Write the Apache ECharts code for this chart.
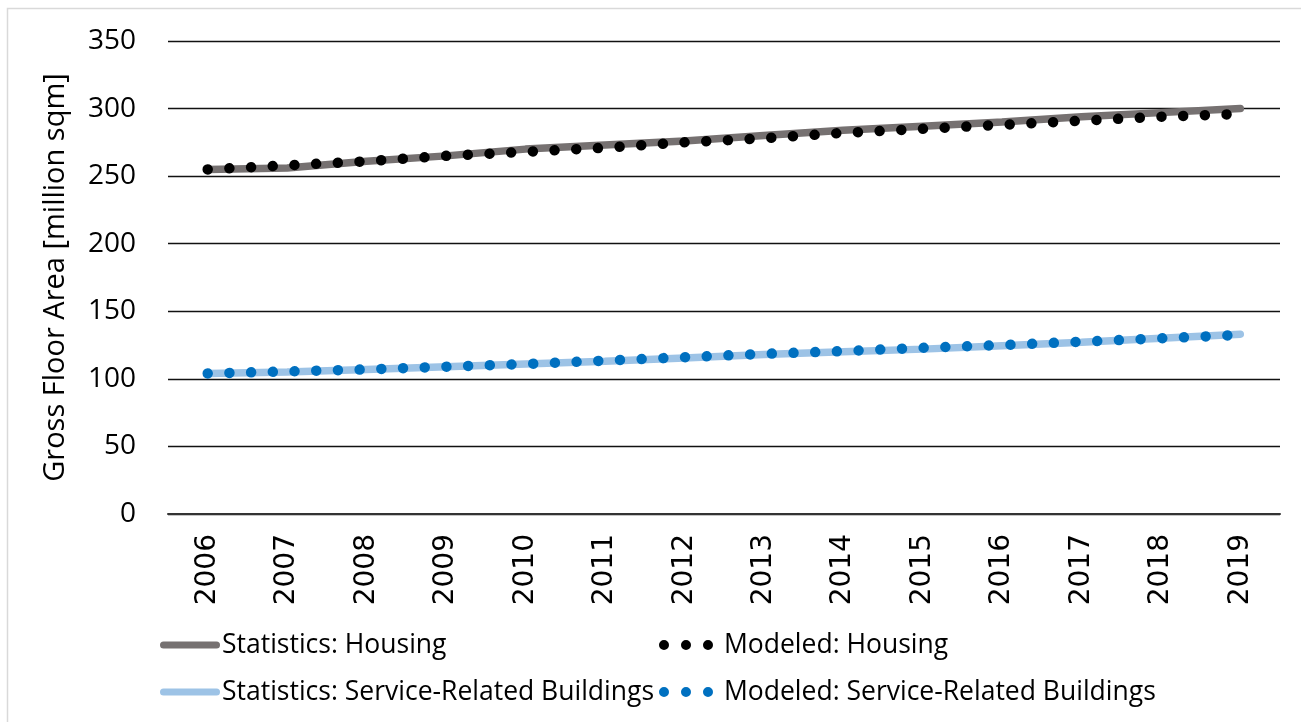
<!DOCTYPE html>
<html>
<head>
<meta charset="utf-8">
<script src="https://cdn.jsdelivr.net/npm/echarts@6/dist/echarts.min.js"></script>
<style>
  html, body { margin: 0; padding: 0; background: #fff; }
  #chart { width: 1301px; height: 722px; }
</style>
</head>
<body>
<div id="chart"></div>
<script>
const years = ['2006', '2007', '2008', '2009', '2010', '2011', '2012', '2013', '2014', '2015', '2016', '2017', '2018', '2019']
const yTicks = [0, 50, 100, 150, 200, 250, 300, 350]

// values, million sqm
const statsHousing = [255, 256, 261, 265, 270, 273, 276, 280, 284, 287, 290, 294, 297, 300]
const modelHousing = [255, 258, 261, 265, 268, 271, 275, 278, 282, 285, 288, 291, 294, 296]
const statsService = [104, 105, 107, 109, 111, 113, 115.5, 118, 120, 122, 124.5, 127, 130, 133]
const modelService = [104, 105.5, 107, 109, 111, 113.5, 116, 118.5, 120.5, 123, 125, 127.5, 130, 132.5]

const chart = echarts.init(document.getElementById('chart'))

const dots = [0.01, 21.7]
const font = 'Open Sans'

// legend icons: thick rounded bar and three round dots
const barIcon = 'path://M3.5,0 L56.5,0 A3.5,3.5 0 0,1 56.5,7 L3.5,7 A3.5,3.5 0 0,1 3.5,0 Z'
const dotIcon = 'path://M0,5 a5,5 0 1,0 10,0 a5,5 0 1,0 -10,0 Z M22,5 a5,5 0 1,0 10,0 a5,5 0 1,0 -10,0 Z M44,5 a5,5 0 1,0 10,0 a5,5 0 1,0 -10,0 Z'

const legendItem = (name, left, top, dotted) => ({
  left: left,
  top: top,
  padding: 0,
  itemGap: 0,
  itemWidth: dotted ? 54 : 60,
  itemHeight: dotted ? 10 : 7,
  icon: dotted ? dotIcon : barIcon,
  itemStyle: { borderWidth: 0 },
  lineStyle: { width: 0 },
  textStyle: {
    fontFamily: font,
    fontSize: 26.5,
    lineHeight: 30,
    color: '#000',
    padding: [0, 0, 0, dotted ? 6 : -3]
  },
  data: [name]
})

const option = {
  animation: false,
  backgroundColor: '#fff',
  graphic: [
    {
      type: 'rect',
      shape: { x: 7.5, y: 8.5, width: 1310, height: 730 },
      style: { fill: 'none', stroke: '#d9d9d9', lineWidth: 1.5 },
      silent: true
    }
  ],
  grid: {
    left: 168,
    right: 21,
    top: 41,
    bottom: 208
  },
  legend: [
    legendItem('Statistics: Housing', 160, 630, false),
    legendItem('Modeled: Housing', 659, 630, true),
    legendItem('Statistics: Service-Related Buildings', 160, 677, false),
    legendItem('Modeled: Service-Related Buildings', 659, 677, true)
  ],
  xAxis: {
    type: 'category',
    data: years,
    boundaryGap: true,
    axisLine: { lineStyle: { color: '#333', width: 2 } },
    axisTick: { show: false },
    axisLabel: {
      rotate: 90,
      margin: 20,
      fontFamily: 'DejaVu Sans',
      fontSize: 28,
      color: '#000'
    }
  },
  yAxis: {
    type: 'value',
    min: yTicks[0],
    max: yTicks[yTicks.length - 1],
    interval: 50,
    name: 'Gross Floor Area [million sqm]',
    nameLocation: 'middle',
    nameGap: 98,
    nameTextStyle: { fontFamily: font, fontSize: 29, color: '#000' },
    axisLine: { show: false },
    axisTick: { show: false },
    axisLabel: { margin: 32, fontFamily: font, fontSize: 28, color: '#000' },
    splitLine: { lineStyle: { color: '#111', width: 1.3 } }
  },
  series: [
    {
      name: 'Statistics: Housing',
      type: 'line',
      data: statsHousing,
      symbol: 'none',
      itemStyle: { color: '#767171' },
      lineStyle: { color: '#767171', width: 7.5, cap: 'round' }
    },
    {
      name: 'Statistics: Service-Related Buildings',
      type: 'line',
      data: statsService,
      symbol: 'none',
      itemStyle: { color: '#9dc3e6' },
      lineStyle: { color: '#9dc3e6', width: 7.5, cap: 'round' }
    },
    {
      name: 'Modeled: Housing',
      type: 'line',
      data: modelHousing,
      symbol: 'none',
      itemStyle: { color: '#000' },
      lineStyle: { color: '#000', width: 10.5, type: dots, cap: 'round' }
    },
    {
      name: 'Modeled: Service-Related Buildings',
      type: 'line',
      data: modelService,
      symbol: 'none',
      itemStyle: { color: '#0070c0' },
      lineStyle: { color: '#0070c0', width: 10.5, type: dots, cap: 'round' }
    }
  ]
}

chart.setOption(option)
window.addEventListener('resize', () => chart.resize())
</script>
</body>
</html>
